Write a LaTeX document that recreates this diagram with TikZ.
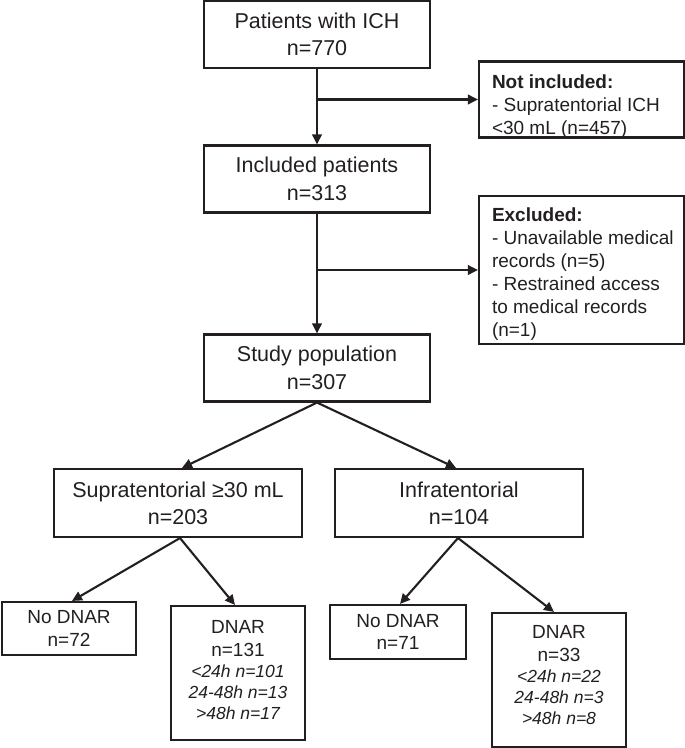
\documentclass[tikz,border=0pt]{standalone}
\usepackage{fontspec}
\setmainfont{Liberation Sans}
\usetikzlibrary{arrows.meta}
\definecolor{ink}{HTML}{231F20}
\begin{document}
\begin{tikzpicture}[x=1pt,y=-1pt,
  box/.style={draw=ink, line width=2.1pt, inner sep=0pt, align=center, text=ink},
  mainbox/.style={box, minimum width=226pt, minimum height=67pt, font=\fontsize{21.5}{27.5}\selectfont},
  midbox/.style={box, minimum width=248pt, minimum height=68pt, font=\fontsize{21.5}{27}\selectfont},
  smallbox/.style={box, minimum width=134pt, font=\fontsize{19}{22.5}\selectfont},
  arr/.style={draw=ink, line width=2.1pt, -{Triangle[length=10pt,width=9.5pt]}},
]
\useasboundingbox (0,0) rectangle (685,748);
\node[mainbox] (b1) at (317,34.5) {Patients with ICH\\n=770};
\node[mainbox] (b2) at (317,179) {Included patients\\n=313};
\node[mainbox] (b3) at (317,368) {Study population\\n=307};
\node[box] (ni) at (581.5,99.5) {\parbox[c][76pt][t]{205pt}{\raggedright\hyphenpenalty=10000\leftskip=13pt\fontsize{19}{23}\selectfont\vspace*{13pt}\textbf{Not included:}\\- Supratentorial ICH\\<30 mL (n=457)\par}};
\node[box] (ex) at (581.5,270) {\parbox[c][148pt][t]{205pt}{\raggedright\hyphenpenalty=10000\leftskip=13pt\fontsize{19}{23}\selectfont\vspace*{12pt}\textbf{Excluded:}\\- Unavailable medical\\records (n=5)\\- Restrained access\\to medical records\\(n=1)\par}};
\node[midbox] (sup) at (178,503) {Supratentorial ≥30 mL\\n=203};
\node[midbox] (inf) at (459,503) {Infratentorial\\n=104};
\node[smallbox, minimum height=53pt] (nd1) at (69,628.5) {No DNAR\\n=72};
\node[smallbox, minimum width=136pt, minimum height=54pt] (nd2) at (398,632) {No DNAR\\n=71};
\node[box] (d1) at (238,673) {\parbox[c][134pt][t]{134pt}{\centering\vspace*{14.5pt}\fontsize{19}{23}\selectfont DNAR\\n=131\par\fontsize{17.5}{21}\selectfont\itshape <24h n=101\\24-48h n=13\\>48h n=17\par}};
\node[box] (d2) at (559,680) {\parbox[c][134pt][t]{134pt}{\centering\vspace*{12.5pt}\fontsize{19}{23}\selectfont DNAR\\n=33\par\fontsize{17.5}{21}\selectfont\itshape <24h n=22\\24-48h n=3\\>48h n=8\par}};
\draw[arr] (b1.south) -- (b2.north);
\draw[arr] (b1.south |- ni.west) -- (ni.west);
\draw[arr] (b2.south) -- (b3.north);
\draw[arr] (b2.south |- ex.west) -- (ex.west);
\draw[arr] (b3.south) -- ([xshift=4pt]sup.north);
\draw[arr] (b3.south) -- ([xshift=-3pt]inf.north);
\draw[arr] ([xshift=2pt]sup.south) -- ([xshift=3pt]nd1.north);
\draw[arr] ([xshift=2pt]sup.south) -- ([xshift=-3pt]d1.north);
\draw[arr] ([xshift=-1pt]inf.south) -- ([xshift=2pt]nd2.north);
\draw[arr] ([xshift=-1pt]inf.south) -- ([xshift=-5pt]d2.north);
\end{tikzpicture}
\end{document}
